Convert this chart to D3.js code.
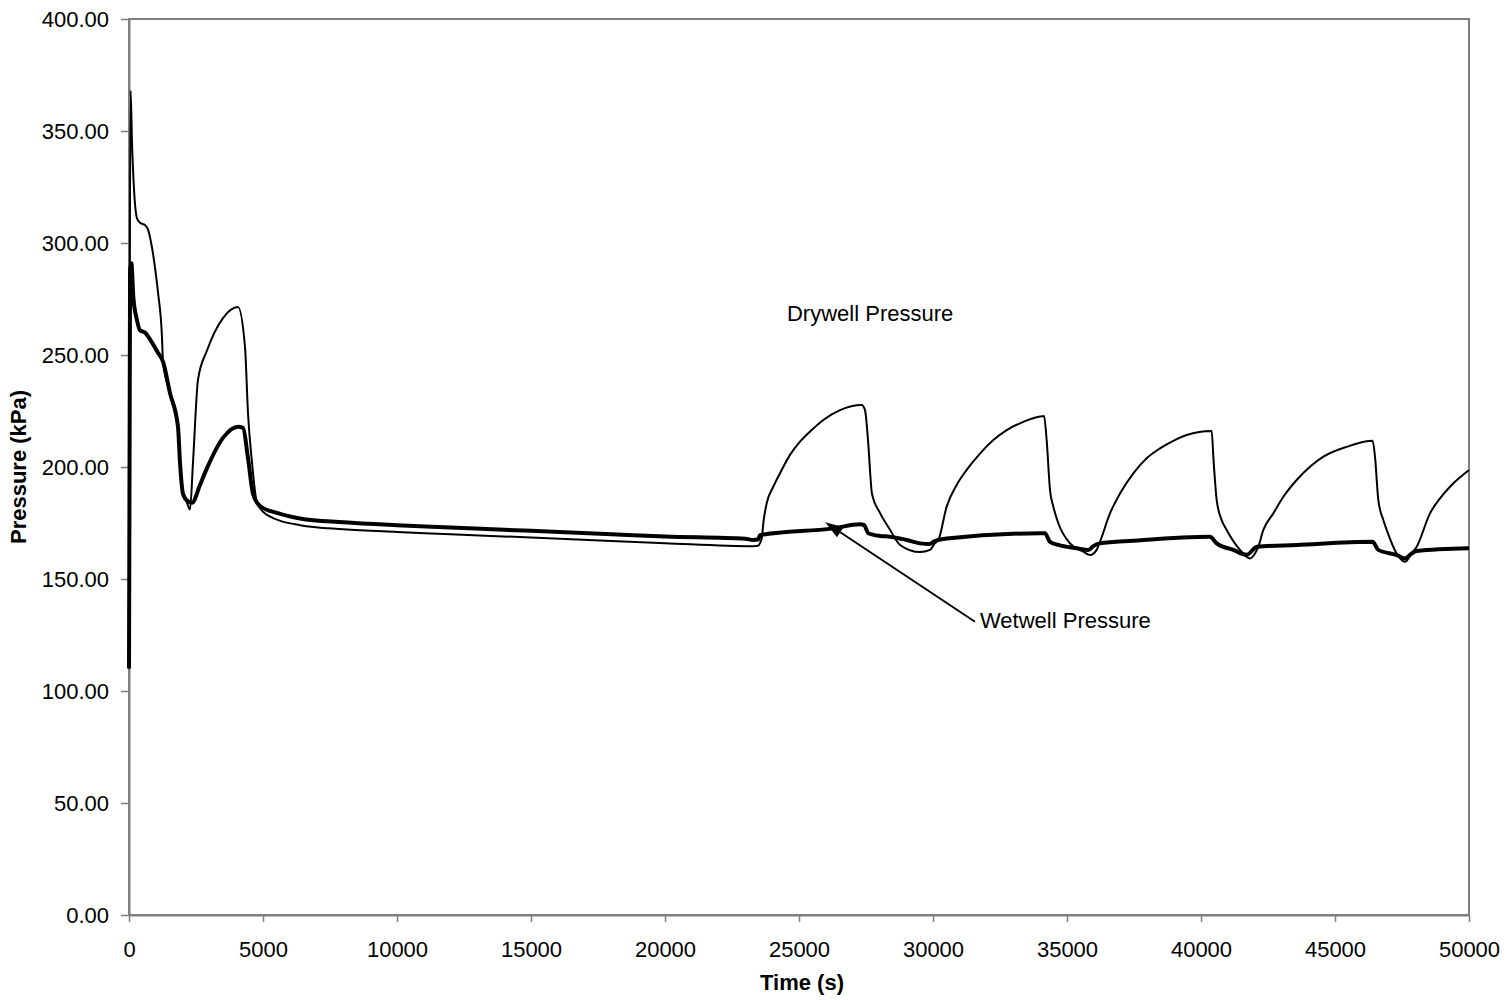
<!DOCTYPE html>
<html>
<head>
<meta charset="utf-8">
<script src="https://cdn.jsdelivr.net/npm/d3@7"></script>
<style>
  html, body { margin: 0; padding: 0; background: #fff; }
  text { font-family: Arial, "Liberation Sans", sans-serif; }
</style>
</head>
<body>
<svg id="chart" width="1510" height="1000"></svg>
<script>
// ---- Data ----
const dryTime = [0, 60, 112, 187, 299, 410, 597, 709, 858, 970, 1082, 1231, 1269, 1530, 1828, 1903, 2015, 2164, 2276, 2388, 2575, 2910, 3507, 4067, 4328, 4440, 4590, 4776, 5149, 6381, 8000, 10000, 12000, 15000, 18000, 20000, 23300, 23470, 23545, 23619, 23669, 23794, 24042, 24291, 24664, 25037, 25473, 25908, 26530, 27338, 27463, 27575, 27724, 28022, 28396, 28769, 29515, 29888, 30075, 30198, 30510, 30883, 31256, 31754, 32251, 32749, 33246, 33993, 34142, 34241, 34366, 34490, 34676, 35112, 35609, 35858, 36107, 36231, 36604, 36978, 37475, 37973, 38470, 38968, 39466, 40399, 40460, 40585, 40771, 40958, 41455, 41828, 42015, 42139, 42326, 42699, 43072, 43570, 44067, 44565, 45436, 46404, 46493, 46616, 46803, 46928, 47300, 47612, 47861, 48048, 48545, 48918, 49291, 49664, 50000];
const dryPressure = [110, 368, 345, 324, 311, 309, 308, 306, 298, 289, 278, 258, 247, 233, 218, 202, 188, 184, 181, 202, 239, 252, 266.5, 271.4, 253.6, 224, 202, 184, 178.6, 174, 172.2, 171, 170, 168.5, 167, 166, 164.6, 164.8, 166, 168.75, 174.9, 183.8, 191.2, 197.2, 205.4, 211.3, 216.5, 221, 225.4, 227.7, 225.4, 212, 188, 179.5, 172, 165.2, 162, 163, 166, 167.4, 182.3, 192, 198.7, 206, 212, 216.5, 219.5, 222.5, 222.8, 212, 189.7, 182.3, 174.9, 165.9, 162.2, 160.7, 163, 166.6, 179.3, 188.2, 197.2, 203.9, 208.3, 211.7, 214.3, 216.1, 204.6, 185.3, 176.3, 171.9, 163, 159.2, 161.4, 164.4, 171.9, 179.3, 186.7, 194.2, 200.1, 204.6, 209, 211.7, 204.6, 185.3, 176.3, 171.9, 161.4, 157.7, 161.4, 164.4, 179.3, 186, 191.2, 195.4, 198.7];

const wetTime = [0, 40, 90, 160, 290, 410, 597, 784, 1082, 1269, 1530, 1828, 1903, 2015, 2164, 2350, 2649, 2910, 3507, 4067, 4254, 4440, 4627, 4888, 5522, 6381, 8000, 10000, 12000, 15000, 18000, 20000, 23000, 23284, 23470, 23545, 26281, 27276, 27425, 27587, 28022, 28396, 29018, 29515, 29888, 30012, 30187, 30510, 33993, 34179, 34366, 34676, 35362, 35796, 35982, 36231, 37475, 40336, 40585, 41206, 41704, 42090, 43570, 46404, 46616, 47300, 47612, 47861, 48048, 50000];
const wetPressure = [110, 288, 291, 276, 266, 261, 260, 257, 251, 247, 233, 218, 202, 188, 185, 184, 192, 199.5, 213, 218, 217.5, 204, 188, 182.6, 179.5, 177, 175.3, 174, 173, 171.5, 170, 169, 168, 167.4, 167.6, 169.6, 172.6, 174.4, 174.1, 170.4, 169.2, 168.9, 167.4, 165.9, 165.6, 166.6, 167.4, 168.1, 170.4, 170.4, 166.6, 165.2, 163.7, 162.9, 164.7, 165.9, 167.1, 168.9, 165.9, 163, 160.8, 164.4, 165.2, 166.6, 163, 160.7, 159.2, 161.4, 162.5, 163.7];

const xTicks = [0, 5000, 10000, 15000, 20000, 25000, 30000, 35000, 40000, 45000, 50000];
const yTicks = [0, 50, 100, 150, 200, 250, 300, 350, 400];

const xTitle = "Time (s)";
const yTitle = "Pressure (kPa)";
const dryLabel = { text: "Drywell Pressure", t: 24552, p: 265.3 };
const wetLabel = { text: "Wetwell Pressure", t: 31754, p: 128.1 };
const wetArrow = { fromT: 31567, fromP: 130.9, toT: 25980, toP: 175.3 };

// ---- Layout ----
const svg = d3.select("#chart");
const mLeft = 129, mRight = 1469, mTop = 19, mBottom = 915;

const x = d3.scaleLinear().domain([0, 50000]).range([mLeft, mRight]);
const y = d3.scaleLinear().domain([0, 400]).range([mBottom, mTop]);

const axisColor = "#7f7f7f";
const fontFam = "Arial, 'Liberation Sans', sans-serif";

// plot border (top/right)
svg.append("rect")
  .attr("x", mLeft).attr("y", mTop)
  .attr("width", mRight - mLeft).attr("height", mBottom - mTop)
  .attr("fill", "none").attr("stroke", axisColor).attr("stroke-width", 2);

// X axis
const xAxis = svg.append("g")
  .attr("transform", `translate(0,${mBottom})`)
  .call(d3.axisBottom(x).tickValues(xTicks).tickFormat(d3.format("d")).tickSize(7).tickSizeOuter(0));
xAxis.select(".domain").attr("stroke", axisColor).attr("stroke-width", 2);
xAxis.selectAll(".tick line").attr("stroke", axisColor).attr("stroke-width", 1.5);
xAxis.selectAll(".tick text")
  .attr("y", 42).attr("dy", 0)
  .attr("font-size", 22).attr("fill", "#000")
  .style("font-family", fontFam);

// Y axis
const yAxis = svg.append("g")
  .attr("transform", `translate(${mLeft},0)`)
  .call(d3.axisLeft(y).tickValues(yTicks).tickFormat(d3.format(".2f")).tickSize(8).tickSizeOuter(0));
yAxis.select(".domain").attr("stroke", axisColor).attr("stroke-width", 2);
yAxis.selectAll(".tick line").attr("stroke", axisColor).attr("stroke-width", 1.5);
yAxis.selectAll(".tick text")
  .attr("x", -20).attr("dy", "0.36em")
  .attr("font-size", 22).attr("fill", "#000")
  .style("font-family", fontFam);

// Lines
const dryData = dryTime.map((t, i) => [t, dryPressure[i]]);
const wetData = wetTime.map((t, i) => [t, wetPressure[i]]);
const line = d3.line().x(d => x(d[0])).y(d => y(d[1])).curve(d3.curveMonotoneX);

svg.append("path").datum(dryData)
  .attr("d", line).attr("fill", "none")
  .attr("stroke", "#000").attr("stroke-width", 2).attr("stroke-linejoin", "round");

svg.append("path").datum(wetData)
  .attr("d", line).attr("fill", "none")
  .attr("stroke", "#000").attr("stroke-width", 4).attr("stroke-linejoin", "round");

// Annotations
svg.append("text")
  .attr("x", x(dryLabel.t)).attr("y", y(dryLabel.p))
  .attr("font-size", 22).attr("fill", "#000").text(dryLabel.text);

svg.append("text")
  .attr("x", x(wetLabel.t)).attr("y", y(wetLabel.p))
  .attr("font-size", 22).attr("fill", "#000").text(wetLabel.text);

// arrow
const x1 = x(wetArrow.fromT), y1 = y(wetArrow.fromP);
const x2 = x(wetArrow.toT), y2 = y(wetArrow.toP);
const ang = Math.atan2(y2 - y1, x2 - x1);
const headLen = 18, headW = 6;
const bx = x2 - headLen * Math.cos(ang), by = y2 - headLen * Math.sin(ang);
svg.append("line")
  .attr("x1", x1).attr("y1", y1).attr("x2", bx).attr("y2", by)
  .attr("stroke", "#000").attr("stroke-width", 2);
svg.append("path")
  .attr("d", `M${x2},${y2} L${bx + headW * Math.sin(ang)},${by - headW * Math.cos(ang)} L${bx - headW * Math.sin(ang)},${by + headW * Math.cos(ang)} Z`)
  .attr("fill", "#000");

// Axis titles
svg.append("text")
  .attr("x", (mLeft + mRight) / 2 + 3).attr("y", 990)
  .attr("text-anchor", "middle").attr("font-size", 22).attr("font-weight", "bold")
  .text(xTitle);

svg.append("text")
  .attr("transform", `translate(26,${(mTop + mBottom) / 2}) rotate(-90)`)
  .attr("text-anchor", "middle").attr("font-size", 22).attr("font-weight", "bold")
  .text(yTitle);
</script>
</body>
</html>
